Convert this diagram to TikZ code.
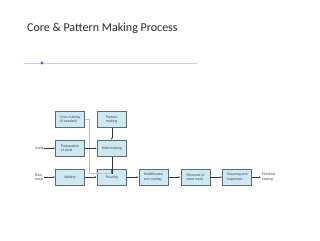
\documentclass[tikz,border=0pt]{standalone}
\usepackage{fontspec}
\setmainfont{Carlito}
\newfontfamily\boxfont{Liberation Sans}
\usetikzlibrary{arrows.meta,positioning}
\definecolor{boxfill}{RGB}{204,232,243}
\definecolor{boxline}{RGB}{95,105,112}
\definecolor{rulecol}{RGB}{205,205,238}
\definecolor{dotcol}{RGB}{92,92,196}
\definecolor{titlecol}{RGB}{40,40,40}

\begin{document}
\begin{tikzpicture}[x=1pt, y=-1pt,
      node distance=12pt,
      box/.style={draw=boxline, line width=0.8pt, fill=boxfill, align=left, minimum height=16pt, minimum width=29pt, inner sep=1.2pt, font=\boxfont\fontsize{3.5}{4.1}\selectfont, text=black!75},
      lbl/.style={align=left, inner sep=0.5pt, font=\boxfont\fontsize{3.5}{4.1}\selectfont, text=black!75},
      arr/.style={-{Latex[length=2pt, width=1.6pt]}, line width=0.35pt, black!80},
      feed/.style={line width=0.5pt, black!25}
    ]
      \useasboundingbox (0,0) rectangle (320,240);
      % heading
      \node[anchor=west, inner sep=0pt, font=\fontsize{12}{14}\selectfont, text=titlecol] (title) at (27,28) {Core \& Pattern Making Process};
      \draw[rulecol, line width=0.6pt] (24,63) -- (198,63);
      \fill[dotcol] (42,63) circle (1.6);
      % boxes
      \node[box] (core) at (70,119.5) {Core making\\(if needed)};
      \node[box, right=of core] (pattern) {Pattern\\making};
      \node[box, below=of core] (prep) {Preparation\\of sand};
      \node[box, below=of pattern] (mold) {Mold making};
      \node[box, below=of prep] (melt) {Melting};
      \node[box, below=of mold] (pour) {Pouring};
      \node[box, right=of pour] (solid) {Solidification\\and cooling};
      \node[box, right=of solid] (removal) {Removal of\\sand mold};
      \node[box, right=of removal] (clean) {Cleaning and\\inspection};
      % free labels
      \node[lbl, left=11pt of prep] (sand) {Sand};
      \node[lbl, left=11pt of melt] (raw) {Raw\\metal};
      \node[lbl, right=9pt of clean] (finished) {Finished\\casting};
      \coordinate (join) at ([yshift=-5pt]pour.north);
      % connectors
      \draw[feed] (core.east) -- ++(4,0) |- (join);
      \draw[arr] (sand) -- (prep);
      \draw[arr] (raw) -- (melt);
      \draw[arr] (prep) -- (mold);
      \draw[arr] (pattern) -- (mold);
      \draw[arr] (mold) -- (join);
      \draw[arr] (join) -- (pour);
      \draw[arr] (melt) -- (pour);
      \draw[arr] (pour) -- (solid);
      \draw[arr] (solid) -- (removal);
      \draw[arr] (removal) -- (clean);
      \draw[arr] (clean) -- (finished);
    \end{tikzpicture}
\end{document}
